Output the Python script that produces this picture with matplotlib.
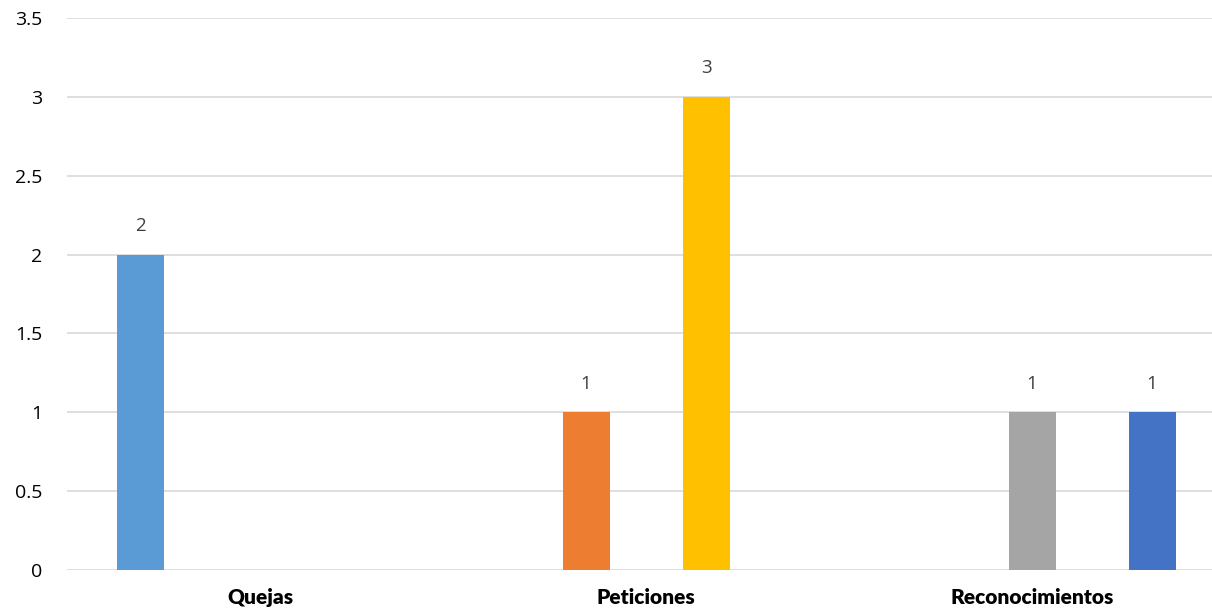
import matplotlib
matplotlib.use("Agg")
import matplotlib.pyplot as plt
import numpy as np

categories = ["Quejas", "Peticiones", "Reconocimientos"]
series_names = ["Serie 1", "Serie 2", "Serie 3", "Serie 4", "Serie 5"]
series_values = [
    [2, 0, 0],   # blue
    [0, 1, 0],   # orange
    [0, 0, 1],   # gray
    [0, 3, 0],   # yellow
    [0, 0, 1],   # dark blue
]
colors = ["#5B9BD5", "#ED7D31", "#A5A5A5", "#FFC000", "#4472C4"]
yticks = [0, 0.5, 1, 1.5, 2, 2.5, 3, 3.5]
ytick_labels = ["0", "0.5", "1", "1.5", "2", "2.5", "3", "3.5"]

W, H = 1212, 614
fig = plt.figure(figsize=(W / 100, H / 100), dpi=100)
left, right, top, bottom = 67, 1212, 18, 570
ax = fig.add_axes([left / W, (H - bottom) / H, (right - left) / W, (bottom - top) / H])

cat_w = 386.0
slot = 60.0 / cat_w
bw = 47.0 / cat_w
x = np.arange(len(categories))
for i, (vals, c) in enumerate(zip(series_values, colors)):
    xs = x + (i - 2) * slot
    for xi, v in zip(xs, vals):
        if v:
            ax.bar(xi, v, width=bw, color=c, zorder=3)
            ax.annotate(str(v), (xi, v), xytext=(0, 14), textcoords="offset points",
                        ha="center", va="bottom", fontsize=13.5, color="#404040",
                        family="Open Sans")

ax.set_xlim(-0.5, -0.5 + (right - left) / cat_w)
ax.set_ylim(0, 3.5)
ax.set_yticks(yticks)
ax.set_yticklabels(ytick_labels, fontsize=14, family="Open Sans", color="#000000")
ax.set_xticks(x)
ax.set_xticklabels(categories, fontsize=15, fontweight="heavy", family="Lato", color="#000000")
ax.tick_params(axis="y", length=0, pad=18)
ax.tick_params(axis="x", length=0, pad=13)
ax.yaxis.grid(True, color="#D9D9D9", linewidth=1.2, zorder=0)
for s in ax.spines.values():
    s.set_visible(False)
ax.set_facecolor("none")

fig.savefig("out.png", dpi=100)
